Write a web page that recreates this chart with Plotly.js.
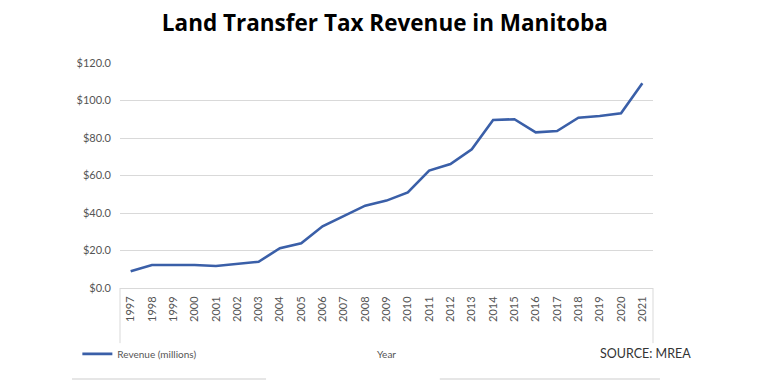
<!DOCTYPE html>
<html>
<head>
<meta charset="utf-8">
<script src="https://cdn.plot.ly/plotly-3.0.1.min.js"></script>
<style>html,body{margin:0;padding:0;background:#fff;}#chart{width:759px;height:380px;}</style>
</head>
<body>
<div id="chart"></div>
<script>
const years = ["1997","1998","1999","2000","2001","2002","2003","2004","2005","2006","2007","2008","2009","2010","2011","2012","2013","2014","2015","2016","2017","2018","2019","2020","2021"];
const revenue = [9.0,12.3,12.3,12.3,11.7,12.9,14.0,21.2,23.8,32.9,38.2,43.9,46.6,51.0,62.6,66.1,74.0,89.6,90.0,83.0,83.7,90.8,91.7,93.2,109.2];
const seriesName = "Revenue (millions)";
const titleText = "Land Transfer Tax Revenue in Manitoba";
const sourceText = "SOURCE: MREA";
const xTitle = "Year";

const grid = "#d9d9d9";
const tickFont = {family: "Lato, 'Liberation Sans', sans-serif", size: 11, color: "#555555"};
const smallFont = {family: "Lato, 'Liberation Sans', sans-serif", size: 10, color: "#555555"};

Plotly.newPlot("chart", [{
  x: years, y: revenue, type: "scatter", mode: "lines", name: seriesName,
  line: {color: "#3a5fa8", width: 2.6}
}], {
  width: 759, height: 380,
  margin: {l: 120, r: 106, t: 63, b: 92},
  paper_bgcolor: "#fff", plot_bgcolor: "#fff",
  title: {text: "<b>" + titleText + "</b>", x: 0.507, xanchor: "center", y: 0.94, yanchor: "middle",
    font: {family: "'Open Sans', Lato, sans-serif", size: 22.5, color: "#000"}},
  xaxis: {type: "category", range: [-0.5, 24.5], tickangle: -90, showgrid: false, showline: true, linecolor: grid, linewidth: 1,
    ticks: "", tickfont: tickFont, ticklabelstandoff: 3, automargin: false,
    title: {text: xTitle, font: smallFont, standoff: 30}},
  yaxis: {range: [0, 120], dtick: 20, tickprefix: "$", tickformat: ".1f", showgrid: true, gridcolor: grid, gridwidth: 1,
    zeroline: false, showline: false, ticks: "", tickfont: tickFont, automargin: false, ticklabelstandoff: 8},
  showlegend: true,
  legend: {orientation: "h", x: -0.08, xanchor: "left", y: -0.293, yanchor: "middle",
    font: smallFont, bgcolor: "rgba(0,0,0,0)", itemwidth: 30},
  annotations: [{text: sourceText, xref: "paper", yref: "paper", x: 0.897, y: -0.293, xanchor: "left", yanchor: "middle",
    showarrow: false, font: {family: "Lato, sans-serif", size: 12.5, color: "#333"}}],
  shapes: [
    {type: "line", xref: "paper", yref: "paper", x0: 0, x1: 0, y0: 0, y1: -0.245, line: {color: grid, width: 1}},
    {type: "line", xref: "paper", yref: "paper", x0: 1, x1: 1, y0: 0, y1: -0.245, line: {color: grid, width: 1}},
    {type: "line", xref: "paper", yref: "paper", x0: -0.09, x1: 0.274, y0: -0.404, y1: -0.404, line: {color: "#e6e6e6", width: 2}},
    {type: "line", xref: "paper", yref: "paper", x0: 0.60, x1: 1.013, y0: -0.404, y1: -0.404, line: {color: "#e6e6e6", width: 2}}
  ]
}, {displayModeBar: false, staticPlot: true});
</script>
</body>
</html>
